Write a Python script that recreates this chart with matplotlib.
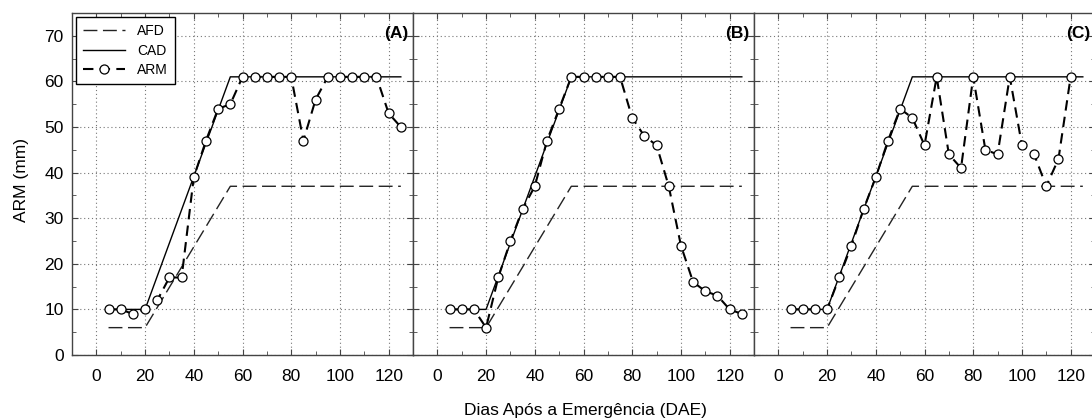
import numpy as np
import matplotlib
matplotlib.use("Agg")
from matplotlib import pyplot as plt
from matplotlib.ticker import MultipleLocator

plt.rcParams['font.family'] = ['Liberation Sans', 'DejaVu Sans']

# dias apos a emergencia
dae = [5, 10, 15, 20, 25, 30, 35, 40, 45, 50, 55, 60, 65,
       70, 75, 80, 85, 90, 95, 100, 105, 110, 115, 120, 125]

# limites: CAD (capacidade de agua disponivel) e AFD (agua facilmente disponivel)
lim_x   = [5, 20, 55, 125]
cad_y   = [10, 10, 61, 61]
afd_y   = [6, 6, 37, 37]

# armazenamento de agua no solo, por cenario
arm_A = [10, 10, 9, 10, 12, 17, 17, 39, 47, 54, 55, 61, 61,
         61, 61, 61, 47, 56, 61, 61, 61, 61, 61, 53, 50]
arm_B = [10, 10, 10, 6, 17, 25, 32, 37, 47, 54, 61, 61, 61,
         61, 61, 52, 48, 46, 37, 24, 16, 14, 13, 10, 9]
arm_C = [10, 10, 10, 10, 17, 24, 32, 39, 47, 54, 52, 46, 61,
         44, 41, 61, 45, 44, 61, 46, 44, 37, 43, 61]

panels = [('(A)', arm_A), ('(B)', arm_B), ('(C)', arm_C)]

W, H = 1092, 418
fig = plt.figure(figsize=(W / 100, H / 100), dpi=100)

left0 = 72
pw    = 341
top   = 13
bot   = 355

axes = []
for i, (lab, arm) in enumerate(panels):
  ax = fig.add_axes([(left0 + i * pw) / W, 1 - bot / H, pw / W, (bot - top) / H])
  axes.append(ax)

  ax.plot(lim_x, afd_y, color='#222222', lw=1.0, dashes=(10, 4), label='AFD')
  ax.plot(lim_x, cad_y, color='black', lw=1.0, label='CAD')
  ax.plot(dae[:len(arm)], arm, color='black', lw=1.5, dashes=(5, 3),
          marker='o', ms=6.5, mfc='white', mec='black', mew=0.9, label='ARM')

  ax.set_xlim(-10, 130)
  ax.set_ylim(0, 75)
  ax.xaxis.set_major_locator(MultipleLocator(20))
  ax.xaxis.set_minor_locator(MultipleLocator(10))
  ax.yaxis.set_major_locator(MultipleLocator(10))
  ax.yaxis.set_minor_locator(MultipleLocator(5))
  ax.grid(True, which='major', ls=(0, (1, 2.5)), color='#777777', lw=0.8)
  ax.tick_params(which='both', direction='in', top=True, right=True,
                 colors='#444444', labelcolor='black', labelsize=12.5)
  ax.tick_params(which='major', length=4)
  ax.tick_params(which='minor', length=3)
  ax.tick_params(axis='x', pad=10)
  ax.tick_params(axis='y', pad=6)
  if i > 0:
    ax.tick_params(axis='y', labelleft=False)
  for sp in ax.spines.values():
    sp.set_color('#444444')
    sp.set_linewidth(1.0)

  ax.text(0.985, 0.94, lab, transform=ax.transAxes, ha='right', va='center',
          fontsize=12.5, fontweight='bold')

leg = axes[0].legend(loc='upper left', bbox_to_anchor=(0.0, 1.0), fontsize=10,
                     handlelength=3.0, numpoints=1, fancybox=False,
                     framealpha=1, edgecolor='black', borderaxespad=0.3,
                     labelspacing=0.4, handletextpad=0.9, borderpad=0.5)
leg.get_frame().set_linewidth(1.0)

fig.text(585 / W, 1 - 410 / H, 'Dias Após a Emergência (DAE)', ha='center',
         va='center', fontsize=12.5)
fig.text(22 / W, 1 - 180 / H, 'ARM (mm)', ha='center', va='center',
         rotation=90, fontsize=12.5)

fig.savefig('out.png', dpi=100)
